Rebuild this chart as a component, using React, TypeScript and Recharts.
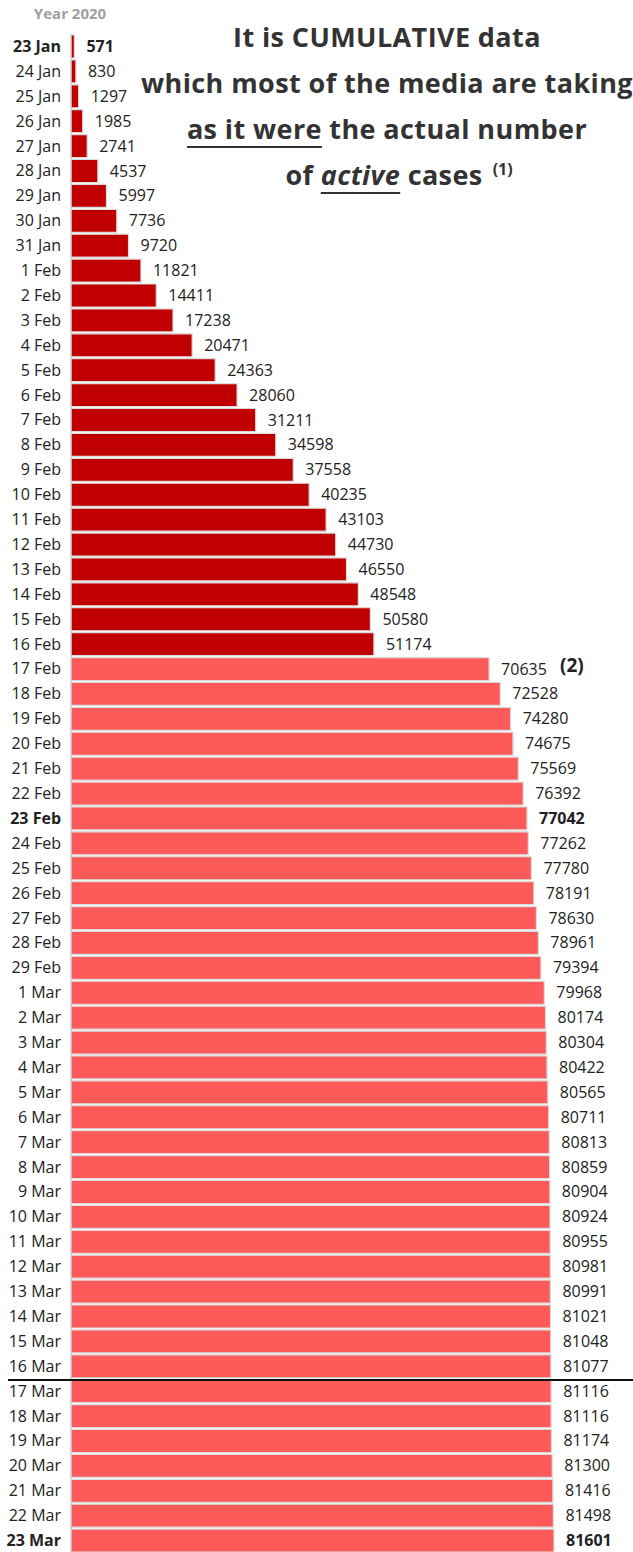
import { BarChart, Bar, XAxis, YAxis, Cell, LabelList } from "recharts";

const days = [
  "23 Jan", "24 Jan", "25 Jan", "26 Jan", "27 Jan", "28 Jan", "29 Jan", "30 Jan", "31 Jan",
  "1 Feb", "2 Feb", "3 Feb", "4 Feb", "5 Feb", "6 Feb", "7 Feb", "8 Feb", "9 Feb", "10 Feb",
  "11 Feb", "12 Feb", "13 Feb", "14 Feb", "15 Feb", "16 Feb", "17 Feb", "18 Feb", "19 Feb", "20 Feb",
  "21 Feb", "22 Feb", "23 Feb", "24 Feb", "25 Feb", "26 Feb", "27 Feb", "28 Feb", "29 Feb",
  "1 Mar", "2 Mar", "3 Mar", "4 Mar", "5 Mar", "6 Mar", "7 Mar", "8 Mar", "9 Mar", "10 Mar",
  "11 Mar", "12 Mar", "13 Mar", "14 Mar", "15 Mar", "16 Mar", "17 Mar", "18 Mar", "19 Mar", "20 Mar",
  "21 Mar", "22 Mar", "23 Mar",
];

const cases = [
  571, 830, 1297, 1985, 2741, 4537, 5997, 7736, 9720,
  11821, 14411, 17238, 20471, 24363, 28060, 31211, 34598, 37558, 40235,
  43103, 44730, 46550, 48548, 50580, 51174, 70635, 72528, 74280, 74675,
  75569, 76392, 77042, 77262, 77780, 78191, 78630, 78961, 79394,
  79968, 80174, 80304, 80422, 80565, 80711, 80813, 80859, 80904, 80924,
  80955, 80981, 80991, 81021, 81048, 81077, 81116, 81116, 81174, 81300,
  81416, 81498, 81601,
];

// dates shown in bold
const boldDays = ["23 Jan", "23 Feb", "23 Mar"];
// from this day on the counting method changed (2)
const methodChangeDay = "17 Feb";

const DARK_RED = "#c00000";
const LIGHT_RED = "#ff5a5a";
const FONT = "'Open Sans', 'Noto Sans', sans-serif";

const data = days.map((d, i) => ({ day: d, value: cases[i] }));
const changeIdx = days.indexOf(methodChangeDay);

const DayTick = (props: any) => {
  const { x, y, payload } = props;
  const bold = boldDays.includes(payload.value);
  return (
    <text
      x={x}
      y={y}
      dy={5.5}
      textAnchor="end"
      fontSize={16}
      fontFamily={FONT}
      fontWeight={bold ? 700 : 400}
      fill="#222"
    >
      {payload.value}
    </text>
  );
};

const ValueLabel = (props: any) => {
  const { x, y, width, height, value, index } = props;
  const bold = boldDays.includes(days[index]);
  return (
    <text
      x={x + width + 12}
      y={y + height / 2}
      dy={5.5}
      fontSize={16}
      fontFamily={FONT}
      fontWeight={bold ? 700 : 400}
      fill="#222"
    >
      {value}
    </text>
  );
};

const titleLine: React.CSSProperties = {
  height: 46,
  lineHeight: "46px",
  textAlign: "center",
  whiteSpace: "nowrap",
};

export default function App() {
  return (
    <div style={{ position: "absolute", left: 0, top: 0, width: 633, height: 1552, overflow: "hidden", background: "#fff" }}>
      <BarChart
        width={633}
        height={1553}
        data={data}
        layout="vertical"
        margin={{ top: 34, right: 79, bottom: 0, left: 0 }}
        barCategoryGap={1}
      >
        <XAxis type="number" hide domain={[0, "dataMax"]} />
        <YAxis
          type="category"
          dataKey="day"
          width={71}
          interval={0}
          tickLine={false}
          tickSize={0}
          tickMargin={10}
          axisLine={{ stroke: "#c8c8c8", strokeWidth: 1 }}
          tick={<DayTick />}
        />
        <Bar dataKey="value" isAnimationActive={false} stroke="#dcdcdc" strokeWidth={1.2}>
          {data.map((_, i) => (
            <Cell key={`cell-${i}`} fill={i < changeIdx ? DARK_RED : LIGHT_RED} />
          ))}
          <LabelList dataKey="value" content={<ValueLabel />} />
        </Bar>
      </BarChart>

      <div
        style={{
          position: "absolute", left: 20, top: 3, width: 100, textAlign: "center",
          fontFamily: FONT, fontWeight: 700, fontSize: 15, color: "#a0a0a0",
        }}
      >
        Year 2020
      </div>

      <div
        style={{
          position: "absolute", left: 87, top: 14, width: 600,
          fontFamily: FONT, fontWeight: 700, fontSize: 27, letterSpacing: 0.4, color: "#333",
        }}
      >
        <div style={titleLine}>It is CUMULATIVE data</div>
        <div style={titleLine}>which most of the media are taking</div>
        <div style={titleLine}>
          <span style={{ textDecoration: "underline", textDecorationThickness: 2, textUnderlineOffset: 7 }}>as it were</span> the actual number
        </div>
        <div style={{ ...titleLine, paddingLeft: 24 }}>
          of <span style={{ fontStyle: "italic", textDecoration: "underline", textDecorationThickness: 2, textUnderlineOffset: 7 }}>active</span> cases
          <span style={{ position: "relative", top: -10, marginLeft: 10, fontSize: 16, letterSpacing: 0 }}>(1)</span>
        </div>
      </div>

      <div
        style={{
          position: "absolute", left: 560, top: 652, fontFamily: FONT, fontWeight: 700,
          fontSize: 19, color: "#222",
        }}
      >
        (2)
      </div>

      <div style={{ position: "absolute", left: 8, top: 1379, width: 625, height: 2, background: "#111" }} />
    </div>
  );
}
